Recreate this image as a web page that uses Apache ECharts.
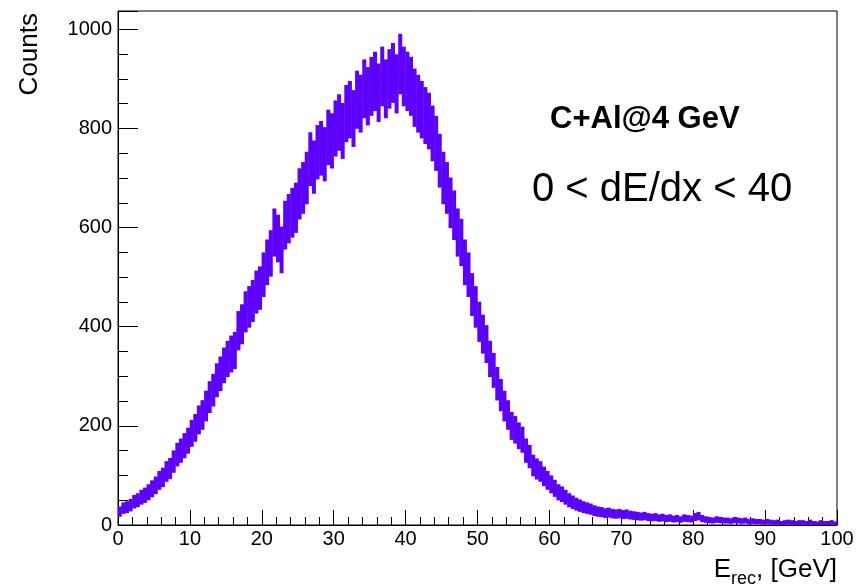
<!DOCTYPE html>
<html>
<head>
<meta charset="utf-8">
<script src="https://cdn.jsdelivr.net/npm/echarts@6/dist/echarts.min.js"></script>
<style>
html,body{margin:0;padding:0;background:#fff;}
#chart{width:858px;height:587px;}
</style>
</head>
<body>
<div id="chart"></div>
<script>
// Histogram: 200 bins of 0.5 GeV from 0 to 100 GeV
const binStart = 0;
const binWidth = 0.5;
const counts = [
  27, 34, 36, 40, 47, 50, 56, 60, 66, 73,
  80, 90, 96, 108, 114, 128, 142, 150, 160, 170,
  185, 196, 212, 222, 240, 258, 272, 292, 305, 322,
  335, 345, 352, 392, 405, 430, 440, 452, 470, 478,
  505, 530, 548, 590, 578, 555, 605, 618, 630, 640,
  668, 680, 700, 738, 722, 752, 760, 748, 782, 775,
  800, 812, 795, 830, 838, 820, 858, 850, 880, 865,
  885, 895, 872, 905, 880, 900, 912, 890, 930, 905,
  895, 885, 862, 850, 838, 826, 815, 790, 770, 735,
  700, 680, 650, 625, 590, 570, 530, 505, 465, 440,
  410, 385, 365, 335, 312, 285, 262, 240, 222, 200,
  192, 180, 172, 150, 138, 120, 113, 108, 98, 90,
  82, 74, 66, 62, 56, 50, 46, 42, 39, 36,
  34, 32, 29, 27, 26, 24, 25, 23, 22, 23,
  21, 22, 20, 19, 18, 17, 18, 16, 15, 16,
  14, 15, 13, 14, 12, 13, 11, 14, 13, 12,
  16, 18, 13, 11, 10, 9, 11, 10, 9, 9,
  8, 10, 9, 8, 9, 7, 8, 7, 7, 6,
  7, 6, 5, 6, 4, 5, 6, 5, 4, 5,
  5, 4, 6, 4, 3, 5, 4, 4, 5, 3
];
// histogram filled with weight 4 per entry -> error = sqrt(weight * counts)
const entryWeight = 4;
const xTitle = 'E';
const xTitleSub = 'rec';
const xTitleRest = ', [GeV]';
const yTitle = 'Counts';
const label1 = 'C+Al@4 GeV';
const label2 = '0 < dE/dx < 40';

const COLOR = '#5c00ff';
const FONT = '"Liberation Sans", Arial, Helvetica, sans-serif';

const data = counts.map((c, i) => [binStart + binWidth * (i + 0.5), c]);

function renderItem(params, api) {
  const x = api.value(0), v = api.value(1);
  const e = Math.sqrt(entryWeight * v);
  const pL = api.coord([x - binWidth / 2, v]);
  const pR = api.coord([x + binWidth / 2, v]);
  const pT = api.coord([x, v + e]);
  const pB = api.coord([x, Math.max(0, v - e)]);
  const st = {stroke: COLOR, lineWidth: 4, fill: null};
  return {
    type: 'group',
    children: [
      {type: 'line', shape: {x1: pL[0], y1: pL[1], x2: pR[0], y2: pR[1]}, style: st},
      {type: 'line', shape: {x1: pT[0], y1: pT[1], x2: pB[0], y2: pB[1]}, style: st}
    ]
  };
}

const chart = echarts.init(document.getElementById('chart'), null, {renderer: 'canvas'});
const YMAX = 1037;
chart.setOption({
  animation: false,
  backgroundColor: '#fff',
  grid: {left: 118, right: 21, top: 11, bottom: 62, show: true, borderColor: '#000', borderWidth: 1, backgroundColor: 'transparent'},
  xAxis: {
    type: 'value', min: 0, max: 100, interval: 10,
    axisLine: {show: true, lineStyle: {color: '#000', width: 1}},
    axisTick: {show: true, inside: true, length: 15, lineStyle: {color: '#000', width: 1}},
    minorTick: {show: true, splitNumber: 5, length: 8, lineStyle: {color: '#000', width: 1}},
    splitLine: {show: false},
    axisLabel: {color: '#000', fontSize: 20, fontFamily: FONT, margin: 4}
  },
  yAxis: [
    {
      type: 'value', min: 0, max: YMAX, interval: 200,
      axisLine: {show: true, lineStyle: {color: '#000', width: 1}},
      axisTick: {show: true, inside: true, length: 20, lineStyle: {color: '#000', width: 1}},
      minorTick: {show: false},
      splitLine: {show: false},
      axisLabel: {color: '#000', fontSize: 20, fontFamily: FONT, margin: 6,
        formatter: v => (v % 200 === 0 ? String(v) : '')}
    },
    {
      type: 'value', min: 0, max: YMAX, interval: 50, position: 'left',
      axisLine: {show: false},
      axisTick: {show: true, inside: true, length: 10, lineStyle: {color: '#000', width: 1}},
      axisLabel: {show: false},
      splitLine: {show: false}
    }
  ],
  series: [{
    type: 'custom',
    renderItem: renderItem,
    data: data,
    encode: {x: 0, y: 1},
    clip: true
  }],
  graphic: [
    {
      type: 'text', x: 30, y: 13, rotation: Math.PI / 2,
      style: {text: yTitle, font: '26px ' + FONT, fill: '#000', align: 'right', verticalAlign: 'middle'}
    },
    {
      type: 'text', x: 837, y: 570,
      style: {
        text: '{m|' + xTitle + '}{s|' + xTitleSub + '}{m|' + xTitleRest + '}',
        align: 'right', verticalAlign: 'middle',
        rich: {
          m: {fontSize: 26, fontFamily: FONT, color: '#000', lineHeight: 36, verticalAlign: 'middle'},
          s: {fontSize: 18, fontFamily: FONT, color: '#000', lineHeight: 18, verticalAlign: 'bottom'}
        }
      }
    },
    {
      type: 'text', x: 550, y: 119,
      style: {text: label1, font: 'bold 31px ' + FONT, fill: '#000', align: 'left', verticalAlign: 'middle'}
    },
    {
      type: 'text', x: 532, y: 190,
      style: {text: label2, font: '40px ' + FONT, fill: '#000', align: 'left', verticalAlign: 'middle'}
    }
  ]
});
</script>
</body>
</html>
